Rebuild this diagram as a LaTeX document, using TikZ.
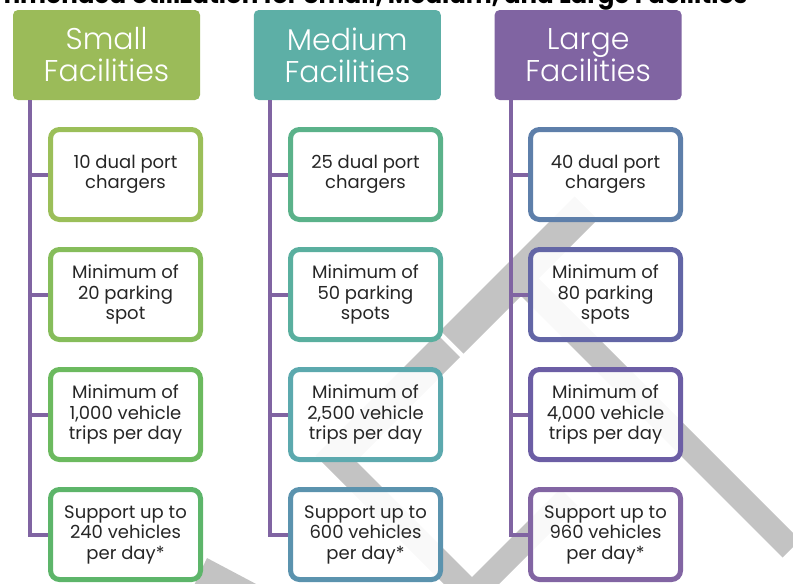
\documentclass[tikz,border=0pt]{standalone}
\usepackage{fontspec}
\setmainfont{Poppins}
\newfontfamily\headfont{Poppins Light}
\usepackage{tikz}
\usepackage{xcolor}
\usetikzlibrary{positioning}
\definecolor{smallc}{HTML}{9BBB59}
\definecolor{medc}{HTML}{5DAFA6}
\definecolor{largec}{HTML}{8064A2}
\definecolor{sc1}{HTML}{9BBF59}
\definecolor{sc2}{HTML}{86BD5B}
\definecolor{sc3}{HTML}{6CBA5F}
\definecolor{sc4}{HTML}{5DB56A}
\definecolor{mc1}{HTML}{5BB28A}
\definecolor{mc2}{HTML}{5AAF9F}
\definecolor{mc3}{HTML}{5CA9AE}
\definecolor{mc4}{HTML}{5B93AE}
\definecolor{lc1}{HTML}{5E7FAA}
\definecolor{lc2}{HTML}{6366A6}
\definecolor{lc3}{HTML}{6C5EA5}
\definecolor{lc4}{HTML}{8265A3}
\definecolor{txt}{HTML}{262626}
\definecolor{wm}{HTML}{C3C3C3}

\begin{document}
\begin{tikzpicture}
	[x=1pt, y=-1pt, thick,
	head/.style = {fill=#1, text=white, minimum width=187pt, minimum height=90pt, rounded corners=5pt, inner sep=0pt, align=center, font=\headfont\fontsize{30}{32}\selectfont},
	box/.style = {draw=#1, line width=5pt, fill=white, fill opacity=0.9, text opacity=1, text=txt, minimum width=150pt, minimum height=90pt, rounded corners=9pt, inner sep=0pt, align=center, font=\fontsize{18}{20.5}\selectfont},
	link/.style = {draw=largec, line width=4pt},
	stamp/.style = {fill=wm}]
	\useasboundingbox (0,0) rectangle (793,584);
	\begin{scope}
	\clip (0,0) rectangle (793,584);
	\fill[stamp] (574.5,196.5) -- (597.5,219.5) -- (463.5,353.5) -- (440.5,330.5) -- cycle;
	\fill[stamp] (437,334) -- (460,357) -- (356,461) -- (472,577) -- (560.5,488.5) -- (577.5,505.5) -- (471.5,611.5) -- (315.5,455.5) -- cycle;
	\fill[stamp] (527,267) -- (800,540) -- (782.5,557.5) -- (509.5,284.5) -- cycle;
	\fill[stamp] (207,558) -- (275,594) -- (190,594) -- cycle;
	\node[anchor=base east, font=\bfseries\fontsize{24.5}{28}\selectfont] (title) at (751,3.5) {Recommended Utilization for Small, Medium, and Large Facilities};
	\node[head=smallc] (sh) at (106.5,55) {Small\\Facilities};
	\node[head=medc] (mh) [right = 53pt of sh] {Medium\\Facilities};
	\node[head=largec] (lh) [right = 53pt of mh] {Large\\Facilities};
	\node[box=sc1] (s1) at (125.5,174.5) {10 dual port\\chargers};
	\node[box=sc2] (s2) [below = 25pt of s1] {Minimum of\\20 parking\\spot};
	\node[box=sc3] (s3) [below = 25pt of s2] {Minimum of\\1,000 vehicle\\trips per day};
	\node[box=sc4] (s4) [below = 25pt of s3] {Support up to\\240 vehicles\\per day*};
	\node[box=mc1] (m1) [right = 85pt of s1] {25 dual port\\chargers};
	\node[box=mc2] (m2) [below = 25pt of m1] {Minimum of\\50 parking\\spots};
	\node[box=mc3] (m3) [below = 25pt of m2] {Minimum of\\2,500 vehicle\\trips per day};
	\node[box=mc4] (m4) [below = 25pt of m3] {Support up to\\600 vehicles\\per day*};
	\node[box=lc1] (l1) [right = 85pt of m1] {40 dual port\\chargers};
	\node[box=lc2] (l2) [below = 25pt of l1] {Minimum of\\80 parking\\spots};
	\node[box=lc3] (l3) [below = 25pt of l2] {Minimum of\\4,000 vehicle\\trips per day};
	\node[box=lc4] (l4) [below = 25pt of l3] {Support up to\\960 vehicles\\per day*};
	\draw[link] ([xshift=17pt]sh.south west) |- (s4.west);
	\draw[link] ([xshift=17pt]sh.south west) |- (s1.west);
	\draw[link] ([xshift=17pt]sh.south west) |- (s2.west);
	\draw[link] ([xshift=17pt]sh.south west) |- (s3.west);
	\draw[link] ([xshift=17pt]mh.south west) |- (m4.west);
	\draw[link] ([xshift=17pt]mh.south west) |- (m1.west);
	\draw[link] ([xshift=17pt]mh.south west) |- (m2.west);
	\draw[link] ([xshift=17pt]mh.south west) |- (m3.west);
	\draw[link] ([xshift=17pt]lh.south west) |- (l4.west);
	\draw[link] ([xshift=17pt]lh.south west) |- (l1.west);
	\draw[link] ([xshift=17pt]lh.south west) |- (l2.west);
	\draw[link] ([xshift=17pt]lh.south west) |- (l3.west);
	\end{scope}
\end{tikzpicture}
\end{document}
